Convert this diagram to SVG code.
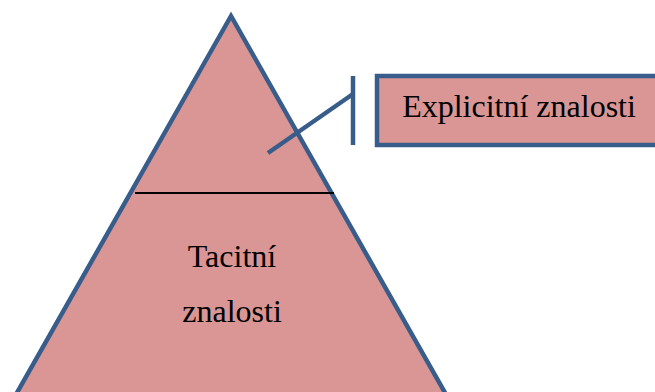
<svg xmlns="http://www.w3.org/2000/svg" width="655" height="392" viewBox="0 0 655 392">
<style>
.shape{fill:#D99694;stroke:#385D8A;stroke-width:4.5;stroke-linejoin:miter}
.conn{fill:none;stroke:#385D8A;stroke-width:4.5}
.lbl{font-family:"Liberation Serif","Times New Roman",serif;font-size:32px;fill:#000;text-anchor:middle}
</style>
<rect width="655" height="392" fill="#fff"/>
<g id="pyramid">
<polygon class="shape" points="231,16 10,405 452,405"/>
<line x1="135" y1="193" x2="334" y2="193" stroke="#000" stroke-width="1.8"/>
<text class="lbl" x="232" y="267">Tacitní</text>
<text class="lbl" x="232" y="322">znalosti</text>
</g>
<g id="explicit">
<rect class="shape" x="377" y="76" width="300" height="69"/>
<text class="lbl" x="519" y="117">Explicitní znalosti</text>
</g>
<g id="connectors">
<polyline class="conn" points="268,153 353,94"/>
<line class="conn" x1="353" y1="76" x2="353" y2="145"/>
</g>
</svg>
